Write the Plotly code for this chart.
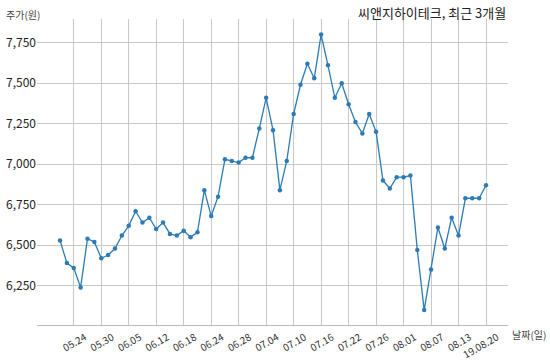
import plotly.graph_objects as go

prices = [6530, 6390, 6360, 6240, 6540, 6520, 6420, 6440, 6480, 6560,
          6620, 6710, 6640, 6670, 6600, 6640, 6570, 6560, 6590, 6550,
          6580, 6840, 6680, 6800, 7030, 7020, 7010, 7040, 7040, 7220,
          7410, 7210, 6840, 7020, 7310, 7490, 7620, 7530, 7800, 7610,
          7410, 7500, 7370, 7260, 7190, 7310, 7200, 6900, 6850, 6920,
          6920, 6930, 6470, 6100, 6350, 6610, 6480, 6670, 6560, 6790,
          6790, 6790, 6870]
x_idx = list(range(len(prices)))
tick_pos = [2, 6, 10, 14, 18, 22, 26, 30, 34, 38, 42, 46, 50, 54, 58, 62]
tick_labels = ["05.24", "05.30", "06.05", "06.12", "06.18", "06.24", "06.28", "07.04",
               "07.10", "07.16", "07.22", "07.26", "08.01", "08.07", "08.13", "19.08.20"]
y_ticks = [6250, 6500, 6750, 7000, 7250, 7500, 7750]
y_labels = ["6,250", "6,500", "6,750", "7,000", "7,250", "7,500", "7,750"]
title = "씨앤지하이테크, 최근 3개월"
y_title = "주가(원)"
x_title = "날짜(일)"

font_family = "Noto Sans CJK KR, Noto Sans, DejaVu Sans"
color = "#2c7bb6"

fig = go.Figure()
fig.add_trace(go.Scatter(
    x=x_idx, y=prices, mode="lines+markers",
    line=dict(color=color, width=1.3),
    marker=dict(color=color, size=4.5),
    hoverinfo="skip", showlegend=False,
))

fig.update_layout(
    width=550, height=360,
    margin=dict(l=37, r=42, t=19, b=35),
    paper_bgcolor="white", plot_bgcolor="white",
    font=dict(family=font_family, color="#222"),
    xaxis=dict(
        range=[-3.35, 65.2], tickmode="array", tickvals=tick_pos, ticktext=tick_labels,
        tickangle=-30, tickfont=dict(size=10, color="#333"),
        ticklabelshift=11, ticklabelstandoff=2,
        showgrid=True, gridcolor="#c8c8c8", gridwidth=1,
        showline=True, linecolor="#bbbbbb", linewidth=1, zeroline=False,
        ticks="", automargin=False,
    ),
    yaxis=dict(
        range=[6008, 7896], tickmode="array", tickvals=y_ticks, ticktext=y_labels,
        tickfont=dict(size=12, color="#222"),
        showgrid=True, gridcolor="#c8c8c8", gridwidth=1,
        showline=False, zeroline=False, ticks="", automargin=False,
    ),
    annotations=[
        dict(text=title, xref="paper", yref="paper", x=1.0, y=1.0, yshift=7,
             xanchor="right", yanchor="middle", showarrow=False,
             font=dict(size=13, color="#222")),
        dict(text=y_title, xref="paper", yref="paper", x=0, xshift=-33, y=1.0, yshift=5,
             xanchor="left", yanchor="middle", showarrow=False,
             font=dict(size=10, color="#444")),
        dict(text=x_title, xref="paper", yref="paper", x=1.0, xshift=2, y=0, yshift=-9,
             xanchor="left", yanchor="middle", showarrow=False,
             font=dict(size=10, color="#444")),
    ],
)

fig.write_html("out.html", config={"displayModeBar": False},
               post_script="document.body.style.margin='0';")
